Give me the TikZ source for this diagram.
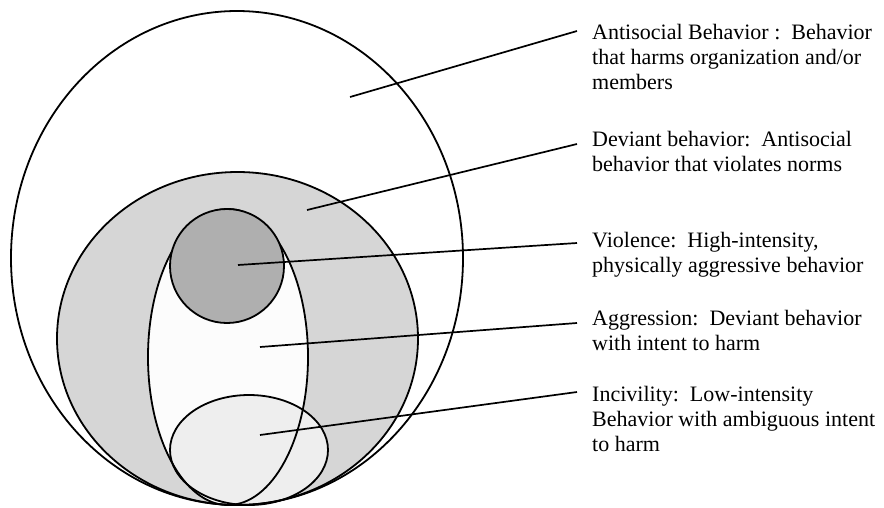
\documentclass[tikz,border=0pt]{standalone}
\usepackage{fontspec}
\setmainfont{Liberation Serif}
\definecolor{devgrey}{RGB}{214,214,214}
\definecolor{viogrey}{RGB}{175,175,175}
\definecolor{incgrey}{RGB}{238,238,238}
\definecolor{aggwhite}{RGB}{252,252,252}
\begin{document}
\begin{tikzpicture}[x=1pt,y=-1pt,
  outline/.style={draw=black,line width=1.8pt},
  leader/.style={draw=black,line width=1.7pt},
  lbl/.style={anchor=base west,inner sep=0pt,font=\fontsize{22}{25}\selectfont}]
\useasboundingbox (0,0) rectangle (884,507);
% fills
\fill[white] (237,258) ellipse [x radius=226pt, y radius=247pt];
\fill[devgrey] (237.5,338.5) ellipse [x radius=180.5pt, y radius=166.5pt];
\fill[aggwhite] (228,357) ellipse [x radius=80pt, y radius=148pt];
\fill[incgrey] (249,450) ellipse [x radius=79pt, y radius=55pt];
% outlines
\draw[outline] (237,258) ellipse [x radius=226pt, y radius=247pt];
\draw[outline] (237.5,338.5) ellipse [x radius=180.5pt, y radius=166.5pt];
\draw[outline] (228,357) ellipse [x radius=80pt, y radius=148pt];
\draw[outline] (249,450) ellipse [x radius=79pt, y radius=55pt];
\draw[outline,fill=viogrey] (227,266) circle [radius=57pt];
% labels
\node[lbl] (antisocial) at (592,39) {\begin{tabular}[t]{@{}l@{}}Antisocial Behavior :\ \ Behavior\\that harms organization and/or\\members\end{tabular}};
\node[lbl] (deviant) at (592,146) {\begin{tabular}[t]{@{}l@{}}Deviant behavior:\ \ Antisocial\\behavior that violates norms\end{tabular}};
\node[lbl] (violence) at (592,247) {\begin{tabular}[t]{@{}l@{}}Violence:\ \ High-intensity,\\physically aggressive behavior\end{tabular}};
\node[lbl] (aggression) at (592,325) {\begin{tabular}[t]{@{}l@{}}Aggression:\ \ Deviant behavior\\with intent to harm\end{tabular}};
\node[lbl] (incivility) at (592,401) {\begin{tabular}[t]{@{}l@{}}Incivility:\ \ Low-intensity\\Behavior with ambiguous intent\\to harm\end{tabular}};
% leader coordinates
\coordinate (p1) at (350,97);  \coordinate (e1) at (577,31);
\coordinate (p2) at (307,210); \coordinate (e2) at (577,144);
\coordinate (p3) at (238,265); \coordinate (e3) at (577,243);
\coordinate (p4) at (260,347); \coordinate (e4) at (577,323);
\coordinate (p5) at (260,435); \coordinate (e5) at (577,392);
\draw[leader] (p1) -- (e1);
\draw[leader] (p2) -- (e2);
\draw[leader] (p3) -- (e3);
\draw[leader] (p4) -- (e4);
\draw[leader] (p5) -- (e5);
\end{tikzpicture}
\end{document}
